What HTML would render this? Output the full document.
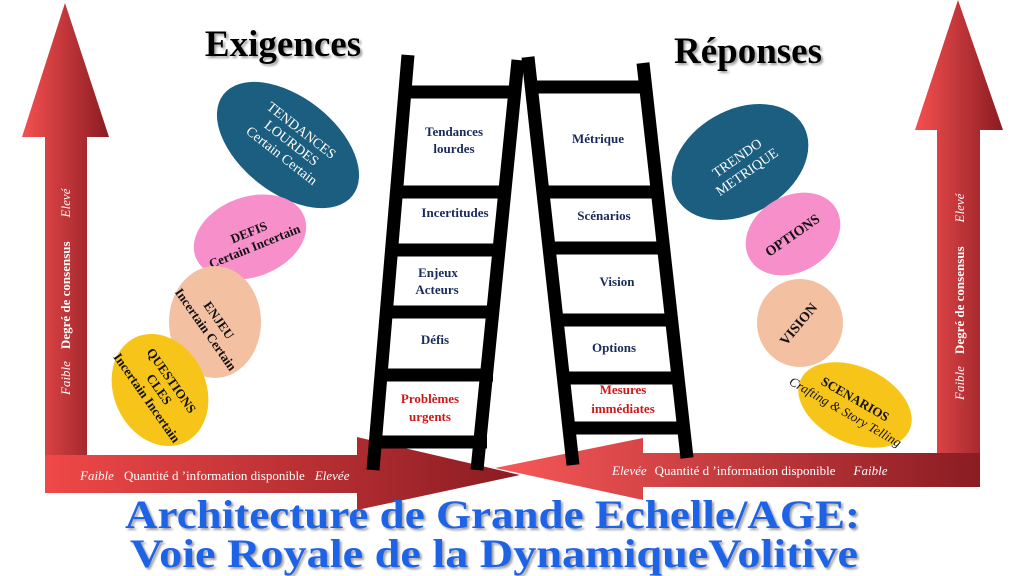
<!DOCTYPE html>
<html><head><meta charset="utf-8"><style>
html,body{margin:0;padding:0;background:#fff;}
svg{display:block;}
text{font-family:"Liberation Serif",serif;}
</style></head><body>
<svg width="1024" height="576" viewBox="0 0 1024 576" xmlns="http://www.w3.org/2000/svg">
<defs>
<linearGradient id="gv" x1="0" x2="1" y1="0" y2="0"><stop offset="0" stop-color="#f65050"/><stop offset="1" stop-color="#8a1c22"/></linearGradient>
<linearGradient id="ghl" x1="0" x2="1" y1="0" y2="0"><stop offset="0" stop-color="#f04848"/><stop offset="1" stop-color="#8a1c22"/></linearGradient>
<linearGradient id="ghr" x1="0" x2="1" y1="0" y2="0"><stop offset="0" stop-color="#f85858"/><stop offset="1" stop-color="#8a1c22"/></linearGradient>
<filter id="sh"><feDropShadow dx="2" dy="2" stdDeviation="1" flood-color="#888" flood-opacity="0.8"/></filter>
</defs>
<!-- vertical arrows -->
<polygon points="65,3 109,137 87,137 87,470 45,470 45,137 22,137" fill="url(#gv)"/>
<polygon points="958,0 1003,130 980,130 980,470 937,470 937,130 915,130" fill="url(#gv)"/>
<!-- horizontal arrows -->
<polygon points="45,455 357,455 357,437 520,475 357,510 357,493 45,493" fill="url(#ghl)"/>
<polygon points="980,453 643,453 643,438 495,468 643,500 643,487 980,487" fill="url(#ghr)"/>
<!-- vertical labels -->
<g fill="#fff" font-size="13">
<text transform="translate(70,395) rotate(-90)"><tspan font-style="italic">Faible</tspan><tspan dx="12" font-weight="bold">Degré de consensus</tspan><tspan dx="24" font-style="italic">Elevé</tspan></text>
<text transform="translate(964,400) rotate(-90)"><tspan font-style="italic">Faible</tspan><tspan dx="12" font-weight="bold">Degré de consensus</tspan><tspan dx="24" font-style="italic">Elevé</tspan></text>
<text x="80" y="480"><tspan font-style="italic">Faible</tspan><tspan dx="10">Quantité d ’information disponible</tspan><tspan dx="10" font-style="italic">Elevée</tspan></text>
<text x="612" y="475"><tspan font-style="italic">Elevée</tspan><tspan dx="8">Quantité d ’information disponible</tspan><tspan dx="18" font-style="italic">Faible</tspan></text>
</g>
<!-- titles -->
<text x="283" y="56" font-size="37" font-weight="bold" text-anchor="middle" filter="url(#sh)">Exigences</text>
<text x="748" y="63" font-size="37" font-weight="bold" text-anchor="middle" filter="url(#sh)">Réponses</text>
<!-- ladders -->
<g stroke="#000" stroke-width="13" fill="none">
<line x1="408" y1="55" x2="373" y2="470"/><line x1="518" y1="60" x2="477" y2="470"/>
<line x1="402" y1="92" x2="516" y2="92"/><line x1="394" y1="192" x2="508" y2="192"/><line x1="389" y1="250" x2="503" y2="250"/><line x1="384" y1="312" x2="498" y2="312"/><line x1="379" y1="375" x2="493" y2="375"/><line x1="374" y1="442" x2="487" y2="442"/>
<line x1="528" y1="57" x2="573" y2="465"/><line x1="643" y1="63" x2="687" y2="458"/>
<line x1="530" y1="87" x2="645" y2="87"/><line x1="543" y1="192" x2="655" y2="192"/><line x1="548" y1="248" x2="660" y2="248"/><line x1="556" y1="320" x2="668" y2="320"/><line x1="562" y1="378" x2="674" y2="378"/><line x1="566" y1="428" x2="680" y2="428"/>
</g>
<g font-size="13" font-weight="bold" fill="#1a2a5a" text-anchor="middle">
<text x="454" y="136">Tendances</text><text x="454" y="153">lourdes</text>
<text x="455" y="217">Incertitudes</text>
<text x="438" y="277">Enjeux</text><text x="437" y="294">Acteurs</text>
<text x="435" y="344">Défis</text>
<text x="430" y="403" fill="#cc1a1a">Problèmes</text><text x="430" y="421" fill="#cc1a1a">urgents</text>
<text x="598" y="143">Métrique</text>
<text x="604" y="220">Scénarios</text>
<text x="617" y="286">Vision</text>
<text x="614" y="352">Options</text>
<text x="623" y="394" fill="#cc1a1a">Mesures</text><text x="623" y="413" fill="#cc1a1a">immédiates</text>
</g>
<!-- left ellipses -->
<ellipse cx="288" cy="145" rx="82" ry="48" transform="rotate(38 288 145)" fill="#1b5e80"/>
<g transform="translate(290,145) rotate(38)" fill="#fff" font-size="14" text-anchor="middle"><text y="-14">TENDANCES</text><text y="2">LOURDES</text><text y="18">Certain Certain</text></g>
<ellipse cx="250" cy="237" rx="58" ry="40" transform="rotate(-20 250 237)" fill="#f78fca"/>
<g transform="translate(252,240) rotate(-22)" fill="#111" font-size="13" font-weight="bold" text-anchor="middle"><text y="-4">DEFIS</text><text y="11">Certain Incertain</text></g>
<ellipse cx="215" cy="322" rx="46" ry="56" fill="#f3c0a2"/>
<g transform="translate(212,325) rotate(55)" fill="#111" font-size="13" font-weight="bold" text-anchor="middle"><text y="-4">ENJEU</text><text y="12">Incertain Certain</text></g>
<ellipse cx="160" cy="390" rx="46" ry="58" transform="rotate(-25 160 390)" fill="#f7c51a"/>
<g transform="translate(158,390) rotate(55)" fill="#111" font-size="13" font-weight="bold" text-anchor="middle"><text y="-12">QUESTIONS</text><text y="3">CLES</text><text y="18">Incertain Incertain</text></g>
<!-- right ellipses -->
<ellipse cx="740" cy="162" rx="73" ry="52" transform="rotate(-30 740 162)" fill="#1b5e80"/>
<g transform="translate(742,165) rotate(-35)" fill="#fff" font-size="14" text-anchor="middle"><text y="-4">TRENDO</text><text y="13">METRIQUE</text></g>
<ellipse cx="793" cy="234" rx="50" ry="38" transform="rotate(-30 793 234)" fill="#f78fca"/>
<text transform="translate(795,239) rotate(-35)" fill="#111" font-size="14" font-weight="bold" text-anchor="middle">OPTIONS</text>
<ellipse cx="800" cy="323" rx="43" ry="44" fill="#f3c0a2"/>
<text transform="translate(802,327) rotate(-50)" fill="#111" font-size="14" font-weight="bold" text-anchor="middle">VISION</text>
<ellipse cx="855" cy="405" rx="60" ry="38" transform="rotate(25 855 405)" fill="#f7c51a"/>
<g transform="translate(850,408) rotate(30)" fill="#111" font-size="13" font-weight="bold" text-anchor="middle"><text y="-6">SCENARIOS</text><text y="10" font-style="italic" font-weight="normal" x="-2">Crafting &amp; Story Telling</text></g>
<!-- bottom title -->
<g font-size="40" font-weight="bold" fill="#1f63e6" filter="url(#sh)">
<text x="125" y="528" textLength="735" lengthAdjust="spacingAndGlyphs">Architecture de Grande Echelle/AGE:</text>
<text x="130" y="567" textLength="728" lengthAdjust="spacingAndGlyphs">Voie Royale de la DynamiqueVolitive</text>
</g>
</svg>
</body></html>
